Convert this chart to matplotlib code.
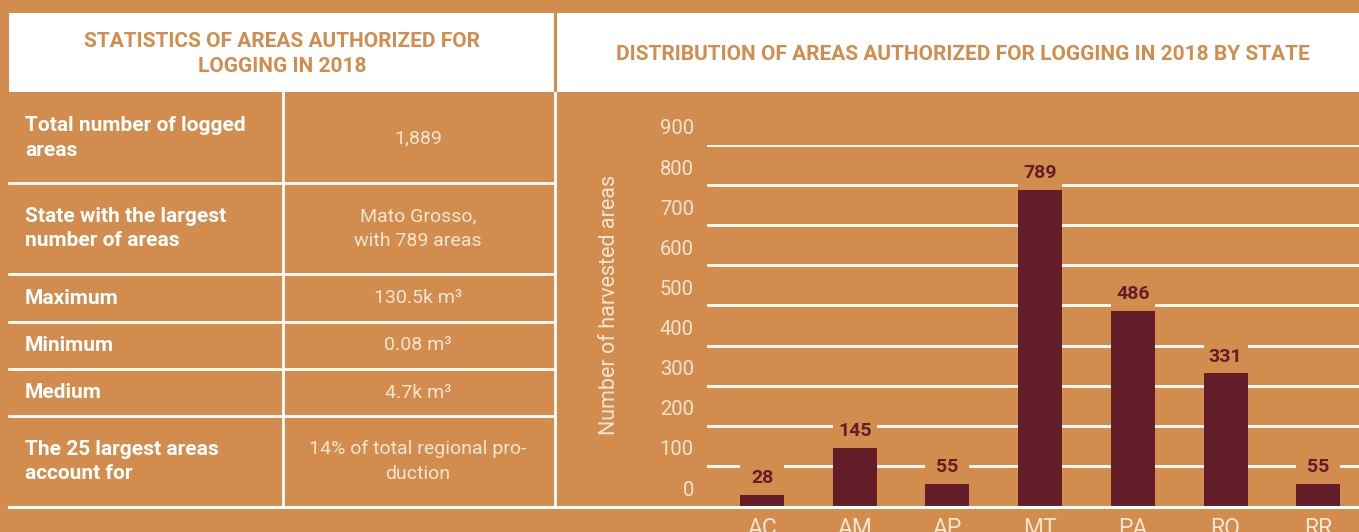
"""
Logging areas authorized in 2018: summary table plus bar chart by state.
"""

import matplotlib
matplotlib.use('Agg')
import matplotlib.pyplot as plt
from matplotlib.lines import Line2D
from matplotlib.patches import Rectangle
from matplotlib.transforms import ScaledTranslation

# data
states = ['AC', 'AM', 'AP', 'MT', 'PA', 'RO', 'RR']
areas = [28, 145, 55, 789, 486, 331, 55]
yticks = [0, 100, 200, 300, 400, 500, 600, 700, 800, 900]

table_title = 'STATISTICS OF AREAS AUTHORIZED FOR\nLOGGING IN 2018'
chart_title = 'DISTRIBUTION OF AREAS AUTHORIZED FOR LOGGING IN 2018 BY STATE'
row_labels = ['Total number of logged\nareas', 'State with the largest\nnumber of areas',
              'Maximum', 'Minimum', 'Medium', 'The 25 largest areas\naccount for']
row_values = ['1,889', 'Mato Grosso,\nwith 789 areas', '130.5k m³', '0.08 m³', '4.7k m³',
              '14% of total regional pro-\nduction']
# row boundaries in pixels (top to bottom)
row_edges = [93, 183, 274, 322, 369, 416, 507]

BG = '#D28D4E'
BAR = '#631D29'
CREAM = '#F6E5D1'
W, H = 1359, 532

plt.rcParams['font.family'] = ['Roboto', 'DejaVu Sans']

fig = plt.figure(figsize=(W / 100, H / 100), dpi=100, facecolor=BG)


def fx(x):
    return x / W


def fy(y):
    return 1 - y / H


def hline(y, x0, x1, lw=2.0, color='white'):
    fig.add_artist(Line2D([fx(x0), fx(x1)], [fy(y), fy(y)], color=color, lw=lw,
                          transform=fig.transFigure))


def vline(x, y0, y1, lw=2.0, color='white'):
    fig.add_artist(Line2D([fx(x), fx(x)], [fy(y0), fy(y1)], color=color, lw=lw,
                          transform=fig.transFigure))


# white header band
fig.add_artist(Rectangle((fx(9), fy(92)), fx(W) - fx(9), fy(13) - fy(92), facecolor='white',
                         edgecolor='none', transform=fig.transFigure))
vline(555, 13, 92, lw=2.2, color=BG)
fig.text(fx(282), fy(54), table_title, ha='center', va='center', color=BG, fontsize=15,
         fontweight='bold', linespacing=1.35)
fig.text(fx(963), fy(54), chart_title, ha='center', va='center', color=BG, fontsize=15,
         fontweight='bold')

# table grid
for y in row_edges[1:]:
    hline(y, 9, 555)
vline(283, 93, 507)
vline(555, 93, 507)

for i, (lab, val) in enumerate(zip(row_labels, row_values)):
    yc = (row_edges[i] + row_edges[i + 1]) / 2
    fig.text(fx(25), fy(yc), lab, ha='left', va='center', color='white', fontsize=15,
             fontweight='bold', linespacing=1.35)
    fig.text(fx(418), fy(yc), val, ha='center', va='center', color=CREAM, fontsize=14,
             linespacing=1.5)

# bar chart
ax = fig.add_axes([fx(707), 1 - 506 / H, fx(W) - fx(707), 361 / H])
ax.set_facecolor('none')
ax.set_xlim(-0.594, 6.44)
ax.set_ylim(0, 900)

for y in yticks[1:]:
    ax.axhline(y, color='white', lw=2.0, zorder=1)

x = range(len(states))
# background boxes so the gridlines break around the value labels
ax.bar(x, [75] * len(areas), bottom=areas, width=0.475, color=BG, zorder=2)
ax.bar(x, areas, width=0.475, color=BAR, zorder=3)
for i, v in enumerate(areas):
    ax.annotate(str(v), xy=(i, v), xytext=(0, 12), textcoords='offset points', ha='center',
                va='center', color=BAR, fontsize=14, fontweight='bold', zorder=4)

ax.set_yticks(yticks)
ax.set_yticklabels([str(t) for t in yticks])
ax.tick_params(axis='y', length=0, pad=9.5, labelsize=14.5, labelcolor=CREAM)
for lbl in ax.get_yticklabels():
    lbl.set_transform(lbl.get_transform() + ScaledTranslation(0, 0.18, fig.dpi_scale_trans))

ax.set_xticks(list(x))
ax.set_xticklabels(states)
ax.tick_params(axis='x', length=0, pad=8, labelsize=16.5, labelcolor=CREAM)

ax.set_ylabel('Number of harvested areas', color=CREAM, fontsize=15.5)
ax.yaxis.set_label_coords(-0.133, 0.557)

for direction in ['right', 'top', 'bottom', 'left']:
    ax.spines[direction].set_visible(False)

# baseline across the whole figure
hline(507, 9, W, lw=2.2)

fig.savefig('out.png', dpi=100, facecolor=BG)
